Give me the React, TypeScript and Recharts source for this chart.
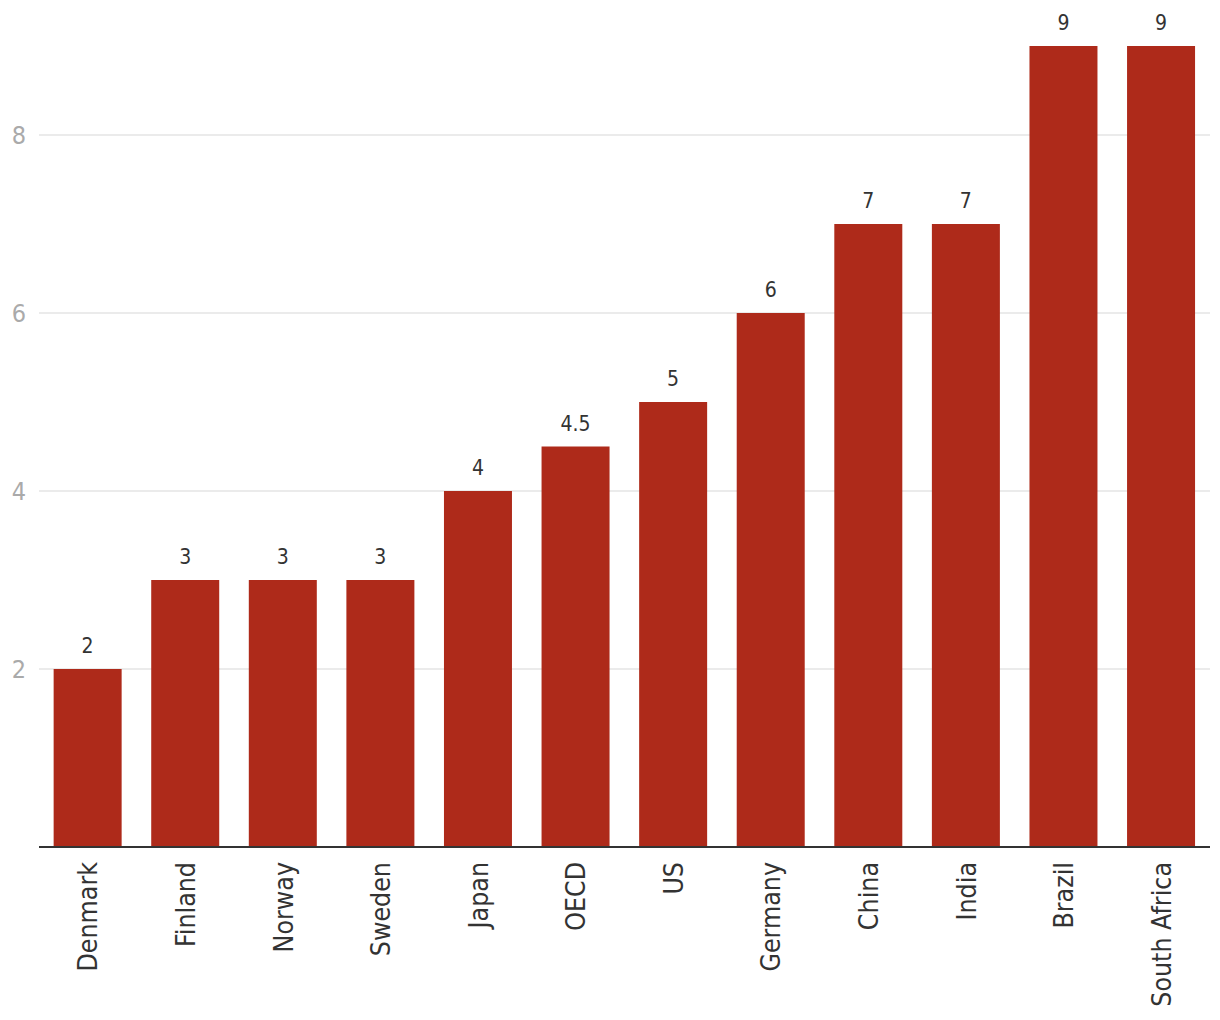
import { Bar, BarChart, CartesianGrid, LabelList, XAxis, YAxis } from 'recharts';

const countries = ['Denmark', 'Finland', 'Norway', 'Sweden', 'Japan', 'OECD', 'US', 'Germany', 'China', 'India', 'Brazil', 'South Africa'];
const values = [2, 3, 3, 3, 4, 4.5, 5, 6, 7, 7, 9, 9];
const yTicks = [2, 4, 6, 8];

const data = countries.map((name, i) => ({ name, value: values[i] }));

const FONT = '"DejaVu Sans Condensed", "DejaVu Sans", sans-serif';

function CountryTick({ x, y, payload }: any) {
    return (
        <g transform={`translate(${x},${y})`}>
            <text
                transform="rotate(-90)"
                textAnchor="end"
                dy="0.36em"
                fill="#333"
                fontSize={26.5}
                fontFamily={FONT}
            >
                {payload.value}
            </text>
        </g>
    );
}

export default function App() {
    return (
        <div style={{ position: 'absolute', left: 0, top: 0, background: '#fff' }}>
            <BarChart
                width={1220}
                height={1020}
                data={data}
                margin={{ top: 46, right: 10, left: 0, bottom: 0 }}
                barCategoryGap="15%"
            >
                {/* syncWithTicks keeps the grid to the labelled ticks only */}
                <CartesianGrid vertical={false} syncWithTicks stroke="#e5e5e5" strokeWidth={1.5} />
                <XAxis
                    dataKey="name"
                    interval={0}
                    height={173}
                    tickLine={false}
                    axisLine={{ stroke: '#333', strokeWidth: 2 }}
                    tickSize={0}
                    tickMargin={15}
                    tick={<CountryTick />}
                />
                <YAxis
                    domain={[0, 9]}
                    ticks={yTicks}
                    width={39}
                    tickLine={false}
                    axisLine={false}
                    tickSize={0}
                    tickMargin={13}
                    tick={{ fill: '#aaa', fontSize: 25, fontFamily: FONT }}
                />
                <Bar dataKey="value" fill="#ae2a1a" isAnimationActive={false}>
                    <LabelList
                        dataKey="value"
                        position="top"
                        offset={16}
                        fill="#333"
                        fontSize={21}
                        fontFamily={FONT}
                    />
                </Bar>
            </BarChart>
        </div>
    );
}
